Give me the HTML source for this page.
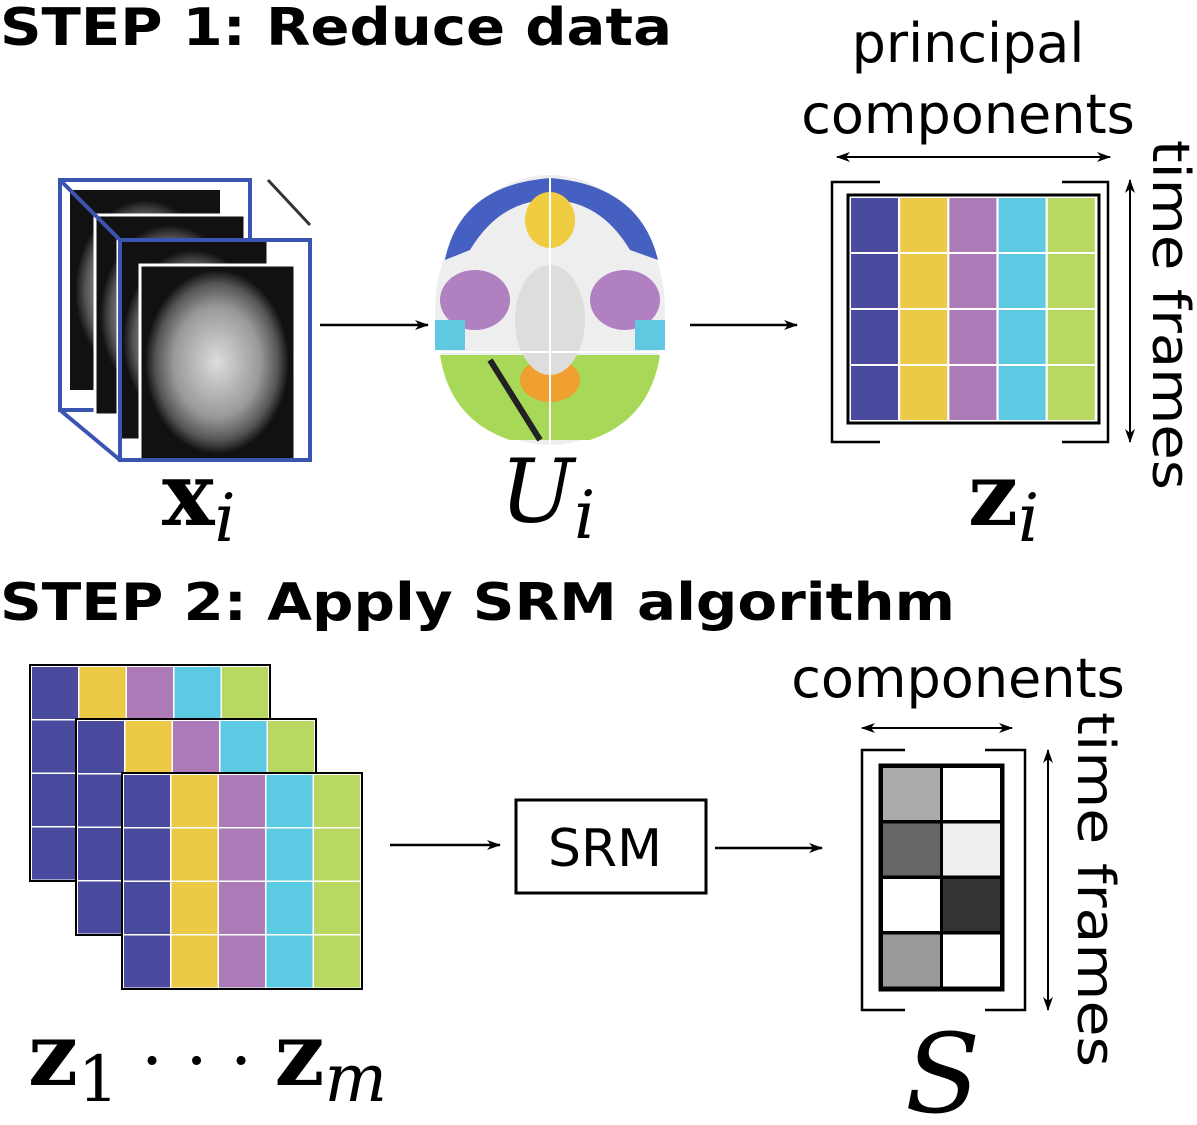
<!DOCTYPE html>
<html><head><meta charset="utf-8"><style>
html,body{margin:0;padding:0;background:#fff}
svg{display:block}
.t{font-family:"DejaVu Sans","Liberation Sans",sans-serif}
.m{font-family:"DejaVu Serif","Liberation Serif",serif}
</style></head><body>
<svg width="1197" height="1125" viewBox="0 0 1197 1125" xmlns="http://www.w3.org/2000/svg">
<defs>
<marker id="ah" markerWidth="14" markerHeight="10" refX="13" refY="5" orient="auto-start-reverse" markerUnits="userSpaceOnUse"><path d="M0,0 L14,5 L0,10 L4,5 z" fill="#000"/></marker>
<radialGradient id="bg" cx="50%" cy="50%" r="50%"><stop offset="0" stop-color="#ddd"/><stop offset="0.6" stop-color="#999"/><stop offset="0.85" stop-color="#555"/><stop offset="1" stop-color="#111"/></radialGradient>
</defs>
<text class="t" x="0" y="45" font-size="52" font-weight="bold" textLength="672" lengthAdjust="spacingAndGlyphs">STEP 1: Reduce data</text>
<text class="t" x="0" y="620" font-size="52" font-weight="bold" textLength="955" lengthAdjust="spacingAndGlyphs">STEP 2: Apply SRM algorithm</text>

<g>
<rect x="60" y="180" width="190" height="230" fill="none" stroke="#3a55b0" stroke-width="4"/>
<rect x="70" y="190" width="150" height="200" fill="#111"/><ellipse cx="145" cy="290" rx="70" ry="90" fill="url(#bg)"/>
<rect x="95" y="215" width="150" height="200" fill="#111" stroke="#fff" stroke-width="3"/><ellipse cx="170" cy="315" rx="70" ry="90" fill="url(#bg)"/>
<rect x="118" y="240" width="150" height="200" fill="#111" stroke="#fff" stroke-width="3"/><ellipse cx="193" cy="340" rx="70" ry="90" fill="url(#bg)"/>
<rect x="140" y="265" width="155" height="195" fill="#111" stroke="#fff" stroke-width="3"/><ellipse cx="217" cy="362" rx="72" ry="92" fill="url(#bg)"/>
<rect x="120" y="240" width="190" height="220" fill="none" stroke="#3a55b0" stroke-width="4"/>
<line x1="60" y1="180" x2="120" y2="240" stroke="#3a55b0" stroke-width="4"/>
<line x1="60" y1="410" x2="120" y2="460" stroke="#3a55b0" stroke-width="4"/>
<line x1="268" y1="180" x2="310" y2="225" stroke="#333" stroke-width="3"/>
</g>
<text class="m" x="162" y="525" font-size="88" font-weight="bold">x<tspan font-style="italic" font-weight="normal" font-size="66" dy="16">i</tspan></text>

<line x1="320" y1="325" x2="428" y2="325" stroke="#000" stroke-width="2.5" marker-end="url(#ah)"/>

<g>
<ellipse cx="550" cy="310" rx="115" ry="135" fill="#eee"/>
<path d="M445,260 Q460,185 550,178 Q640,185 658,260 L630,250 Q600,200 550,200 Q500,200 470,250 Z" fill="#4560c0"/>
<ellipse cx="550" cy="220" rx="25" ry="28" fill="#f0cc40"/>
<ellipse cx="475" cy="300" rx="35" ry="30" fill="#b080c0"/>
<ellipse cx="625" cy="300" rx="35" ry="30" fill="#b080c0"/>
<rect x="435" y="320" width="30" height="30" fill="#60c8e0"/>
<rect x="635" y="320" width="30" height="30" fill="#60c8e0"/>
<path d="M440,355 L660,355 Q650,420 590,440 L510,440 Q450,420 440,355 Z" fill="#a8d858"/>
<ellipse cx="550" cy="380" rx="30" ry="22" fill="#f0a030"/>
<ellipse cx="550" cy="320" rx="35" ry="55" fill="#ddd"/>
<path d="M490,360 L540,440" stroke="#222" stroke-width="6"/>
<line x1="550" y1="178" x2="550" y2="445" stroke="#fff" stroke-width="2"/>
<line x1="435" y1="352" x2="665" y2="352" stroke="#fff" stroke-width="2"/>
</g>
<text class="m" x="500" y="522" font-size="88" font-style="italic">U<tspan font-size="66" dy="16">i</tspan></text>

<line x1="690" y1="325" x2="797" y2="325" stroke="#000" stroke-width="2.5" marker-end="url(#ah)"/>

<text class="t" x="968" y="62" font-size="54" text-anchor="middle">principal</text>
<text class="t" x="968" y="133" font-size="54" text-anchor="middle">components</text>
<line x1="837" y1="157" x2="1110" y2="157" stroke="#000" stroke-width="2" marker-start="url(#ah)" marker-end="url(#ah)"/>
<line x1="1130" y1="180" x2="1130" y2="442" stroke="#000" stroke-width="2" marker-start="url(#ah)" marker-end="url(#ah)"/>
<text class="t" transform="translate(1153,140) rotate(90)" font-size="52" textLength="350" lengthAdjust="spacingAndGlyphs">time frames</text>

<path d="M880,182 L832,182 L832,442 L880,442" fill="none" stroke="#000" stroke-width="2.5"/>
<path d="M1062,182 L1108,182 L1108,442 L1062,442" fill="none" stroke="#000" stroke-width="2.5"/>
<g id="zi"></g>
<text class="m" x="968" y="525" font-size="88" font-weight="bold">z<tspan font-style="italic" font-weight="normal" font-size="66" dy="16">i</tspan></text>

<g id="stack"></g>
<text class="m" x="28" y="1085" font-size="88" font-weight="bold">z<tspan font-weight="normal" font-size="64" dy="16">1</tspan><tspan dy="-16" font-weight="normal" font-size="70"> · · · </tspan>z<tspan font-style="italic" font-weight="normal" font-size="66" dy="16">m</tspan></text>

<line x1="390" y1="845" x2="500" y2="845" stroke="#000" stroke-width="2.5" marker-end="url(#ah)"/>
<rect x="516" y="800" width="190" height="93" fill="#fff" stroke="#000" stroke-width="3"/>
<text class="t" x="605" y="866" font-size="52" text-anchor="middle">SRM</text>
<line x1="715" y1="848" x2="822" y2="848" stroke="#000" stroke-width="2.5" marker-end="url(#ah)"/>

<text class="t" x="958" y="697" font-size="54" text-anchor="middle">components</text>
<line x1="862" y1="728" x2="1012" y2="728" stroke="#000" stroke-width="2" marker-start="url(#ah)" marker-end="url(#ah)"/>
<line x1="1048" y1="750" x2="1048" y2="1010" stroke="#000" stroke-width="2" marker-start="url(#ah)" marker-end="url(#ah)"/>
<text class="t" transform="translate(1078,712) rotate(90)" font-size="52" textLength="355" lengthAdjust="spacingAndGlyphs">time frames</text>
<path d="M905,750 L862,750 L862,1010 L905,1010" fill="none" stroke="#000" stroke-width="2.5"/>
<path d="M985,750 L1025,750 L1025,1010 L985,1010" fill="none" stroke="#000" stroke-width="2.5"/>
<g id="smat"></g>
<text class="m" x="905" y="1112" font-size="110" font-style="italic">S</text>
</svg>
<script>
const colColors=['#4a4a9e','#ecca48','#ad7ab8','#5ccae2','#b8d862'];
const sShades=[['#aaaaaa','#ffffff'],['#666666','#eeeeee'],['#ffffff','#333333'],['#999999','#ffffff']];
const NS='http://www.w3.org/2000/svg';
function rect(p,x,y,w,h,f,s,sw,name){const r=document.createElementNS(NS,'rect');r.setAttribute('x',x);r.setAttribute('y',y);r.setAttribute('width',w);r.setAttribute('height',h);r.setAttribute('fill',f);r.setAttribute('stroke',s);r.setAttribute('stroke-width',sw);


p.appendChild(r);}
const zi=document.getElementById('zi');
rect(zi,848,195,251,228,'#fff','#000',3,'z-i-frame');
for(let r=0;r<4;r++)for(let c=0;c<5;c++)rect(zi,851+c*49.2,198+r*56,47,54,colColors[c],'none',0,'z-i-cell');
const st=document.getElementById('stack');
for(let L=0;L<3;L++){const ox=30+L*46,oy=665+L*54;
rect(st,ox,oy,240,216,'#fff','#000',2,'stack-layer-frame');
for(let r=0;r<4;r++)for(let c=0;c<5;c++)rect(st,ox+2+c*47.5,oy+2+r*53.5,46,52,colColors[c],'none',0,'stack-cell');}
const sm=document.getElementById('smat');
rect(sm,880,765,123,225,'#fff','#000',3,'s-frame');
for(let r=0;r<4;r++)for(let c=0;c<2;c++)rect(sm,882+c*60,767+r*55.5,59,54,sShades[r][c],'#000',2,'s-cell');
</script>
</body></html>
